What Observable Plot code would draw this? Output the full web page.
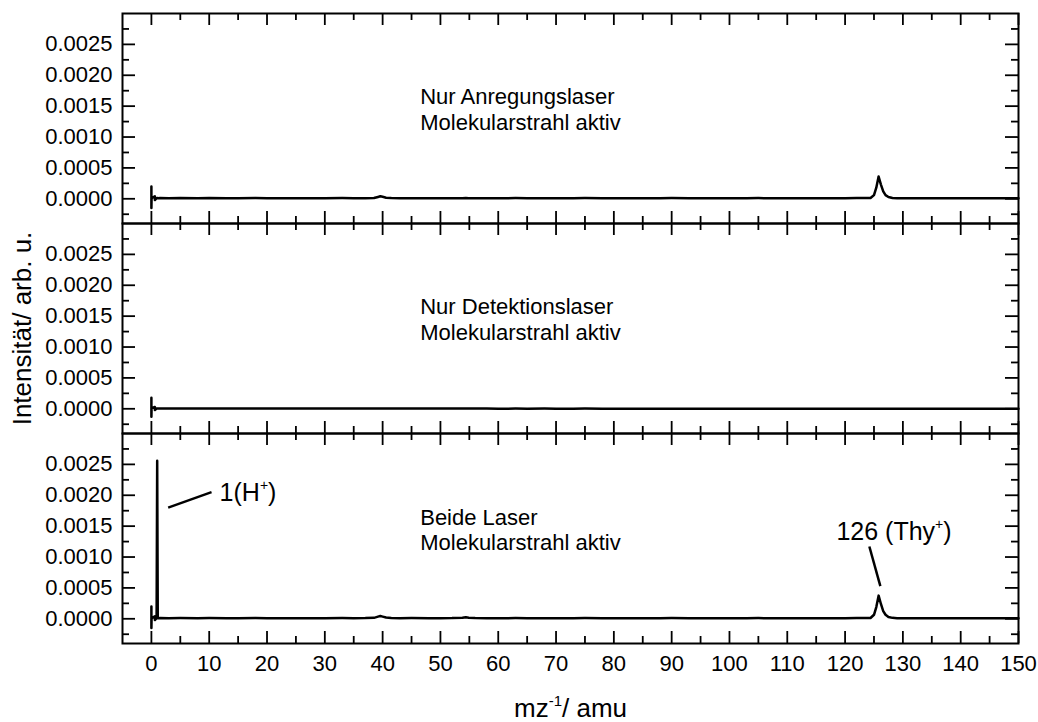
<!DOCTYPE html>
<html><head><meta charset="utf-8">
<script src="https://cdn.jsdelivr.net/npm/d3@7"></script>
<script src="https://cdn.jsdelivr.net/npm/@observablehq/plot@0.6"></script>
<style>body{margin:0;background:#fff;}</style>
</head><body><div id="chart"></div>
<script>
const panels = ["1", "2", "3"];
const mz = [
  0, 0, 0.03, 0.6, 0.6, 0.9, 1.0, 1.1, 1.5,
  3, 5, 8, 10, 13, 15, 18, 20, 23, 25, 28, 30, 33, 35, 37,
  38.5, 39.2, 39.6, 40, 40.6, 41.5,
  43, 45, 48, 50, 52,
  53.8, 54.4, 54.9, 56,
  58, 60, 63, 65, 68, 70, 73, 75, 78, 80, 83, 85, 88, 90, 93, 95, 98, 100, 103, 105, 108, 110, 113, 115, 118, 120, 122,
  124.4, 125.0, 125.4, 125.8, 126.2, 126.6, 127.0, 127.5, 128.2,
  129, 131, 133, 135, 138, 140, 143, 145, 148, 150
];
const intensityAnregung = [
  2.0e-4, -1.5e-4, 1.0e-5, 4e-5, -2e-5, 1.0e-5, 1.2e-5, 0.9e-5, 1.1e-5,
  1.0e-5, 1.2e-5, 0.8e-5, 1.1e-5, 0.9e-5, 1.0e-5, 1.2e-5, 0.9e-5, 1.0e-5, 0.8e-5, 1.0e-5, 0.9e-5, 1.1e-5, 0.9e-5, 1.0e-5,
  1.3e-5, 3.0e-5, 4.0e-5, 3.2e-5, 1.8e-5, 1.1e-5,
  0.9e-5, 1.0e-5, 0.8e-5, 1.0e-5, 0.9e-5,
  1.0e-5, 1.2e-5, 1.0e-5, 0.9e-5,
  1.0e-5, 0.8e-5, 1.1e-5, 0.9e-5, 1.0e-5, 0.8e-5, 1.0e-5, 1.1e-5, 0.9e-5, 1.0e-5, 0.8e-5, 1.0e-5, 0.9e-5, 1.1e-5, 1.0e-5, 0.8e-5, 1.0e-5, 0.9e-5, 1.0e-5, 1.1e-5, 0.9e-5, 1.0e-5, 0.8e-5, 1.0e-5, 0.9e-5, 1.0e-5, 1.1e-5,
  1.2e-5, 6e-5, 1.8e-4, 3.6e-4, 2.3e-4, 1.2e-4, 6e-5, 3e-5, 1.4e-5,
  1.0e-5, 0.9e-5, 1.0e-5, 0.8e-5, 1.0e-5, 0.9e-5, 1.0e-5, 0.8e-5, 0.9e-5, 1.0e-5
];
const intensityDetektion = [
  1.8e-4, -1.3e-4, 0.5e-5, 3e-5, -2e-5, 0.5e-5, 0.6e-5, 0.4e-5, 0.5e-5,
  0.5e-5, 0.6e-5, 0.4e-5, 0.5e-5, 0.4e-5, 0.5e-5, 0.6e-5, 0.4e-5, 0.5e-5, 0.3e-5, 0.5e-5, 0.4e-5, 0.5e-5, 0.4e-5, 0.5e-5,
  0.4e-5, 0.5e-5, 0.4e-5, 0.5e-5, 0.4e-5, 0.3e-5,
  0.4e-5, 0.3e-5, 0.4e-5, 0.3e-5, 0.4e-5,
  0.3e-5, 0.4e-5, 0.3e-5, 0.3e-5,
  0.3e-5, 0.2e-5, 0.3e-5, 0.2e-5, 0.3e-5, 0.2e-5, 0.2e-5, 0.3e-5, 0.2e-5, 0.2e-5, 0.1e-5, 0.2e-5, 0.2e-5, 0.1e-5, 0.2e-5, 0.1e-5, 0.1e-5, 0.2e-5, 0.1e-5, 0.1e-5, 0.0, 0.1e-5, 0.1e-5, 0.0, 0.1e-5, 0.0, 0.1e-5,
  0.0, 0.1e-5, 0.0, 0.1e-5, 0.0, 0.1e-5, 0.0, 0.1e-5, 0.0,
  0.0, 0.1e-5, 0.0, 0.0, 0.1e-5, 0.0, 0.0, 0.1e-5, 0.0, 0.0
];
const intensityBeide = [
  2.0e-4, -1.5e-4, 1.0e-5, 4e-5, -2e-5, 1.0e-5, 2.56e-3, 1.0e-5, 1.2e-5,
  1.0e-5, 1.2e-5, 0.9e-5, 1.1e-5, 1.0e-5, 1.0e-5, 1.2e-5, 0.9e-5, 1.0e-5, 0.9e-5, 1.0e-5, 0.9e-5, 1.1e-5, 1.0e-5, 1.1e-5,
  1.5e-5, 3.5e-5, 4.5e-5, 3.5e-5, 2.0e-5, 1.2e-5,
  1.0e-5, 1.1e-5, 0.9e-5, 1.0e-5, 1.1e-5,
  1.6e-5, 2.6e-5, 1.8e-5, 1.1e-5,
  1.0e-5, 0.8e-5, 1.1e-5, 0.9e-5, 1.0e-5, 0.8e-5, 1.0e-5, 1.1e-5, 0.9e-5, 1.0e-5, 0.8e-5, 1.0e-5, 0.9e-5, 1.1e-5, 1.0e-5, 0.8e-5, 1.0e-5, 0.9e-5, 1.0e-5, 1.1e-5, 0.9e-5, 1.0e-5, 0.8e-5, 1.0e-5, 0.9e-5, 1.0e-5, 1.1e-5,
  1.3e-5, 6.5e-5, 1.9e-4, 3.75e-4, 2.4e-4, 1.25e-4, 6.5e-5, 3e-5, 1.5e-5,
  1.0e-5, 0.9e-5, 1.0e-5, 0.9e-5, 1.0e-5, 0.8e-5, 1.0e-5, 0.9e-5, 1.0e-5, 0.9e-5
];
const xMajor = [0, 10, 20, 30, 40, 50, 60, 70, 80, 90, 100, 110, 120, 130, 140, 150];
const xMinor = [5, 15, 25, 35, 45, 55, 65, 75, 85, 95, 105, 115, 125, 135, 145];
const yMajor = [0, 0.0005, 0.0010, 0.0015, 0.0020, 0.0025];
const yMinor = [-0.00025, 0.00025, 0.00075, 0.00125, 0.00175, 0.00225, 0.00275];
const panelTexts = ["Nur Anregungslaser\nMolekularstrahl aktiv", "Nur Detektionslaser\nMolekularstrahl aktiv", "Beide Laser\nMolekularstrahl aktiv"];
const panelTextX = [46.5, 46.5, 46.5];
const panelTextY = [0.00112, 0.00112, 0.00111];
const peakLabels = ["1(H+)", "126 (Thy+)"];
const peakLabelX = [11.8, 118.5];
const peakLabelY = [0.00191, 0.00128];
const leaderX1 = [2.9, 124.2], leaderY1 = [0.0018, 0.00117];
const leaderX2 = [10.4, 126.1], leaderY2 = [0.00205, 0.00053];
const yLabel = "Intensität/ arb. u.";
const xLabel = "mz-1/ amu";

const series = [intensityAnregung, intensityDetektion, intensityBeide];
const table = panels.flatMap((p, k) => mz.map((x, i) => ({panel: p, mz: x, intensity: series[k][i]})));
const texts = panels.map((p, k) => ({panel: p, text: panelTexts[k], x: panelTextX[k], y: panelTextY[k]}));
const peaks = peakLabels.map((t, k) => ({panel: "3", text: t, x: peakLabelX[k], y: peakLabelY[k]}));
const leaders = leaderX1.map((_, k) => ({panel: "3", x1: leaderX1[k], y1: leaderY1[k], x2: leaderX2[k], y2: leaderY2[k]}));

const W = 1038, ML = 122, MR = 20, MT = 13, MB = 79;
const innerW = W - ML - MR, facetH = 210;

const chart = Plot.plot({
  width: W, height: MT + MB + 3 * facetH,
  marginLeft: ML, marginRight: MR, marginTop: MT, marginBottom: MB,
  style: {fontFamily: "'Liberation Sans', Arial, sans-serif", fontSize: "22px", color: "black", background: "white", overflow: "visible"},
  x: {domain: [-5, 150]},
  y: {domain: [-0.0004, 0.0030]},
  fy: {domain: panels, padding: 0, axis: null},
  marks: [
    Plot.line(table, {x: "mz", y: "intensity", fy: "panel", stroke: "black", strokeWidth: 2.5}),
    Plot.link(leaders, {x1: "x1", y1: "y1", x2: "x2", y2: "y2", fy: "panel", stroke: "black", strokeWidth: 2.5}),
    Plot.tickX(xMajor, {x: d => d, insetBottom: facetH - 12, strokeWidth: 1.8}),
    Plot.tickX(xMajor, {x: d => d, insetTop: facetH - 12, strokeWidth: 1.8}),
    Plot.tickX(xMinor, {x: d => d, insetBottom: facetH - 7, strokeWidth: 1.8}),
    Plot.tickX(xMinor, {x: d => d, insetTop: facetH - 7, strokeWidth: 1.8}),
    Plot.tickY(yMajor, {y: d => d, insetRight: innerW - 13, strokeWidth: 1.8}),
    Plot.tickY(yMajor, {y: d => d, insetLeft: innerW - 13, strokeWidth: 1.8}),
    Plot.tickY(yMinor, {y: d => d, insetRight: innerW - 7, strokeWidth: 1.8}),
    Plot.tickY(yMinor, {y: d => d, insetLeft: innerW - 7, strokeWidth: 1.8}),
    Plot.frame({stroke: "black", strokeWidth: 2}),
    Plot.axisY(yMajor, {anchor: "left", tickSize: 0, tickPadding: 10, tickFormat: d => d.toFixed(4), label: null}),
    Plot.axisX(xMajor, {anchor: "bottom", tickSize: 0, tickPadding: 12, tickFormat: d => String(d), label: null}),
    Plot.text(texts, {x: "x", y: "y", fy: "panel", text: "text", textAnchor: "start", lineAnchor: "bottom", lineHeight: 1.15, fontSize: 22}),
    Plot.text(peaks, {x: "x", y: "y", fy: "panel", text: "text", textAnchor: "start", lineAnchor: "bottom", fontSize: 25}),
    Plot.text([yLabel], {fy: ["2"], frameAnchor: "left", dx: -100, rotate: -90, textAnchor: "middle", lineAnchor: "middle", fontSize: 26}),
    Plot.text([xLabel], {fy: ["3"], frameAnchor: "bottom", dy: 73, textAnchor: "middle", lineAnchor: "bottom", fontSize: 26})
  ]
});

chart.querySelectorAll("text").forEach(t => {
  const s = t.textContent;
  if (s === "mz-1/ amu") t.innerHTML = 'mz<tspan font-size="15" dy="-11">-1</tspan><tspan dy="11">/ amu</tspan>';
  else if (s === "1(H+)") t.innerHTML = '1(H<tspan font-size="14" dy="-11">+</tspan><tspan dy="11">)</tspan>';
  else if (s === "126 (Thy+)") t.innerHTML = '126 (Thy<tspan font-size="14" dy="-11">+</tspan><tspan dy="11">)</tspan>';
});

document.getElementById("chart").appendChild(chart);
</script>
</body></html>
